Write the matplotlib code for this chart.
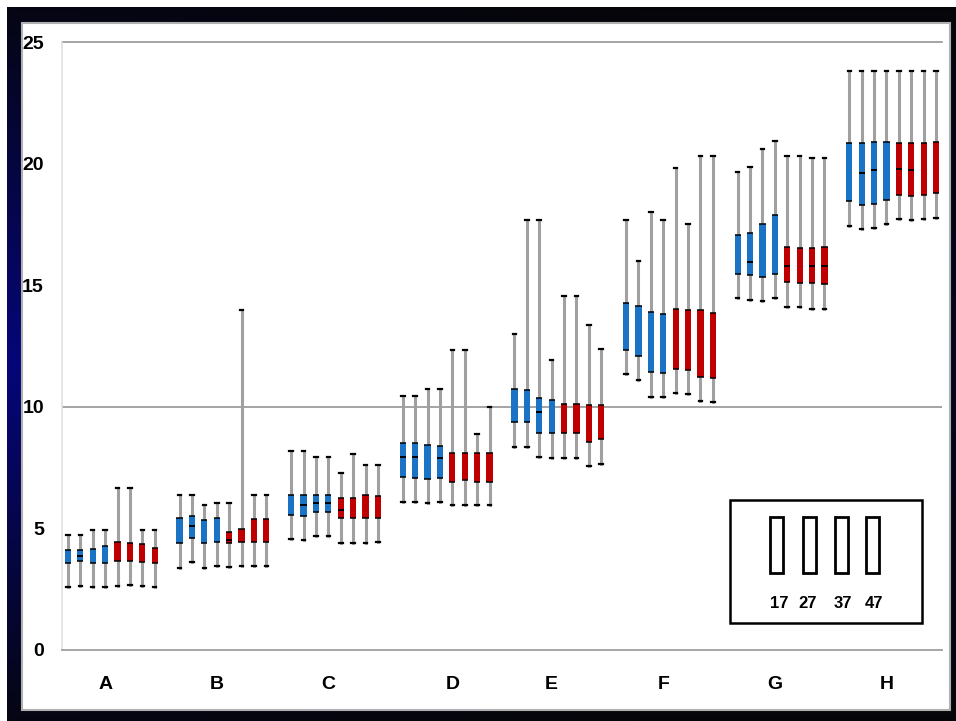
import numpy as np
import matplotlib
matplotlib.use("Agg")
import matplotlib.pyplot as plt
from matplotlib.patches import Rectangle

# categories and series (4 blue + 4 red boxes per category)
categories = ["A", "B", "C", "D", "E", "F", "G", "H"]
label_offsets = [3, 3, 3, 4, 3, 3, 3, 3]
series = ["17", "27", "37", "47"]

whishi = [
    4.73, 4.73, 4.93, 4.93, 6.67, 6.67, 4.93, 4.93,
    6.36, 6.36, 5.95, 6.06, 6.06, 13.98, 6.36, 6.36,
    8.20, 8.20, 7.94, 7.94, 7.26, 8.06, 7.62, 7.62,
    10.46, 10.46, 10.73, 10.73, 12.35, 12.35, 8.89, 9.99,
    13.01, 17.67, 17.67, 11.92, 14.57, 14.57, 13.36, 12.36,
    17.67, 15.99, 18.00, 17.67, 19.83, 17.52, 20.31, 20.31,
    19.65, 19.87, 20.61, 20.93, 20.31, 20.31, 20.23, 20.23,
    23.82, 23.82, 23.82, 23.82, 23.82, 23.82, 23.82, 23.82,
]
q3 = [
    4.11, 4.11, 4.17, 4.28, 4.43, 4.40, 4.36, 4.21,
    5.44, 5.50, 5.33, 5.44, 4.85, 4.96, 5.39, 5.39,
    6.36, 6.36, 6.36, 6.36, 6.26, 6.26, 6.37, 6.33,
    8.52, 8.52, 8.43, 8.37, 8.11, 8.11, 8.11, 8.11,
    10.75, 10.69, 10.37, 10.27, 10.10, 10.10, 10.06, 10.06,
    14.27, 14.16, 13.90, 13.80, 14.03, 13.98, 13.98, 13.84,
    17.05, 17.16, 17.53, 17.89, 16.57, 16.52, 16.52, 16.57,
    20.83, 20.83, 20.89, 20.89, 20.83, 20.83, 20.83, 20.89,
]
med = [
    None, 3.86, None, None, None, None, None, None,
    None, 5.11, None, None, 4.51, None, None, None,
    None, 5.95, 6.06, 6.06, 5.76, None, None, None,
    7.95, 7.95, None, 7.89, None, None, None, None,
    None, None, 9.77, None, None, None, None, None,
    None, None, None, None, None, None, None, None,
    None, 15.94, None, None, 15.78, None, 15.78, 15.78,
    None, 19.61, 19.72, None, 19.78, 19.72, None, None,
]
q1 = [
    3.56, 3.67, 3.59, 3.59, 3.66, 3.66, 3.62, 3.59,
    4.39, 4.61, 4.39, 4.46, 4.40, 4.46, 4.44, 4.44,
    5.55, 5.51, 5.66, 5.66, 5.41, 5.41, 5.41, 5.41,
    7.11, 7.09, 7.03, 7.09, 6.92, 6.98, 6.92, 6.92,
    9.36, 9.36, 8.94, 8.93, 8.93, 8.93, 8.57, 8.66,
    12.34, 12.09, 11.44, 11.40, 11.57, 11.51, 11.24, 11.17,
    15.46, 15.41, 15.35, 15.46, 15.14, 15.09, 15.09, 15.04,
    18.46, 18.28, 18.35, 18.52, 18.72, 18.67, 18.72, 18.78,
]
whislo = [
    2.58, 2.63, 2.58, 2.58, 2.63, 2.69, 2.63, 2.58,
    3.36, 3.62, 3.36, 3.47, 3.41, 3.47, 3.47, 3.47,
    4.56, 4.52, 4.67, 4.67, 4.41, 4.41, 4.41, 4.43,
    6.10, 6.10, 6.04, 6.10, 5.95, 5.95, 5.95, 5.95,
    8.36, 8.36, 7.95, 7.89, 7.89, 7.89, 7.58, 7.63,
    11.35, 11.10, 10.42, 10.42, 10.58, 10.53, 10.25, 10.20,
    14.46, 14.40, 14.35, 14.46, 14.09, 14.09, 14.03, 14.03,
    17.45, 17.31, 17.35, 17.50, 17.72, 17.67, 17.72, 17.78,
]

BLUE = "#1a73c4"
RED = "#c00000"
W, H = 956, 721
FONT = ["Liberation Sans", "DejaVu Sans"]

fig = plt.figure(figsize=(W / 100, H / 100), dpi=100)
fig.patch.set_facecolor("white")


def px(x, y, w, h):
    # pixel box (top-left origin) -> figure fraction rect
    return [x / W, 1 - (y + h) / H, w / W, h / H]


# dark frame with navy tint, strongest on the left side
bg = fig.add_axes(px(7, 7, 949, 714), zorder=-5)
gy, gx = np.mgrid[0:1:200j, 0:1:300j]
shade = np.clip(1 - np.abs(gy - 0.5) * 1.8, 0, 1) * np.clip(1 - gx * 1.2, 0.2, 1)
img = np.zeros((200, 300, 3))
img[..., 2] = 0.45 * shade + 0.03
img[..., 0] = 0.02
img[..., 1] = 0.02
bg.imshow(img, aspect="auto", extent=[0, 1, 0, 1])
bg.add_patch(Rectangle((15 / 949, 11 / 714), 928 / 949, 687 / 714,
                       facecolor="white", edgecolor="#b0b0b0", lw=1.5))
bg.set_axis_off()

ax = fig.add_axes(px(62, 42, 880, 608))
n_grp = len(categories)
per = 2 * len(series)
pos = [g * 9 + j for g in range(n_grp) for j in range(per)]
stats = []
for i in range(len(pos)):
    m = med[i] if med[i] is not None else q3[i]
    stats.append(dict(whislo=whislo[i], q1=q1[i], med=m, q3=q3[i], whishi=whishi[i], fliers=[]))

bp = ax.bxp(stats, positions=pos, widths=0.5, patch_artist=True, showfliers=False,
            boxprops=dict(linewidth=0),
            whiskerprops=dict(color="#a0a0a0", linewidth=2.2),
            capprops=dict(color="black", linewidth=1.6),
            capwidths=0.28,
            medianprops=dict(color="black", linewidth=1.4))
for i, b in enumerate(bp["boxes"]):
    b.set_facecolor(BLUE if (i % per) < len(series) else RED)
    b.set_zorder(3)
for i, mline in enumerate(bp["medians"]):
    mline.set_zorder(4)
    if med[i] is None:
        mline.set_visible(False)
ax.hlines(q3, np.array(pos) - 0.25, np.array(pos) + 0.25, color="black", lw=1.1, zorder=4)
ax.hlines(q1, np.array(pos) - 0.25, np.array(pos) + 0.25, color="black", lw=1.1, zorder=4)

ax.axhline(10, color="#8c8c8c", lw=1.1, zorder=1)
ax.axhline(25, color="#8c8c8c", lw=1.1, zorder=1, clip_on=False)
ax.set_ylim(0, 25)
ax.set_xlim(-0.48, 70.48)
for s in ["top", "right"]:
    ax.spines[s].set_visible(False)
ax.spines["left"].set_color("#e0e0e0")
ax.spines["left"].set_linewidth(1.2)
ax.spines["bottom"].set_color("#a6a6a6")
ax.spines["bottom"].set_linewidth(1.4)

ax.set_yticks([0, 5, 10, 15, 20, 25])
ax.set_yticklabels(["0", "5", "10", "15", "20", "25"], family=FONT, fontsize=14, fontweight="bold")
ax.set_xticks([g * 9 + label_offsets[g] for g in range(n_grp)])
ax.set_xticklabels(categories, family=FONT, fontsize=14, fontweight="bold")
ax.tick_params(axis="y", length=0, pad=13)
ax.tick_params(axis="x", length=0, pad=19)

# legend box for the series
fig.add_artist(Rectangle((730 / W, 1 - 623 / H), 192 / W, 123 / H,
                         transform=fig.transFigure, facecolor="white",
                         edgecolor="black", lw=1.8))
leg_x = [770, 803, 835, 866]
lab_x = [779, 808, 843, 874]
for k, name in enumerate(series):
    fig.add_artist(Rectangle((leg_x[k] / W, 1 - 573 / H), 13 / W, 56 / H,
                             transform=fig.transFigure, facecolor="white",
                             edgecolor="black", lw=2.0))
    fig.text(lab_x[k] / W, 1 - 603 / H, name, ha="center", va="center",
             family=FONT, fontsize=12, fontweight="bold")

fig.savefig("out.png", dpi=100)
